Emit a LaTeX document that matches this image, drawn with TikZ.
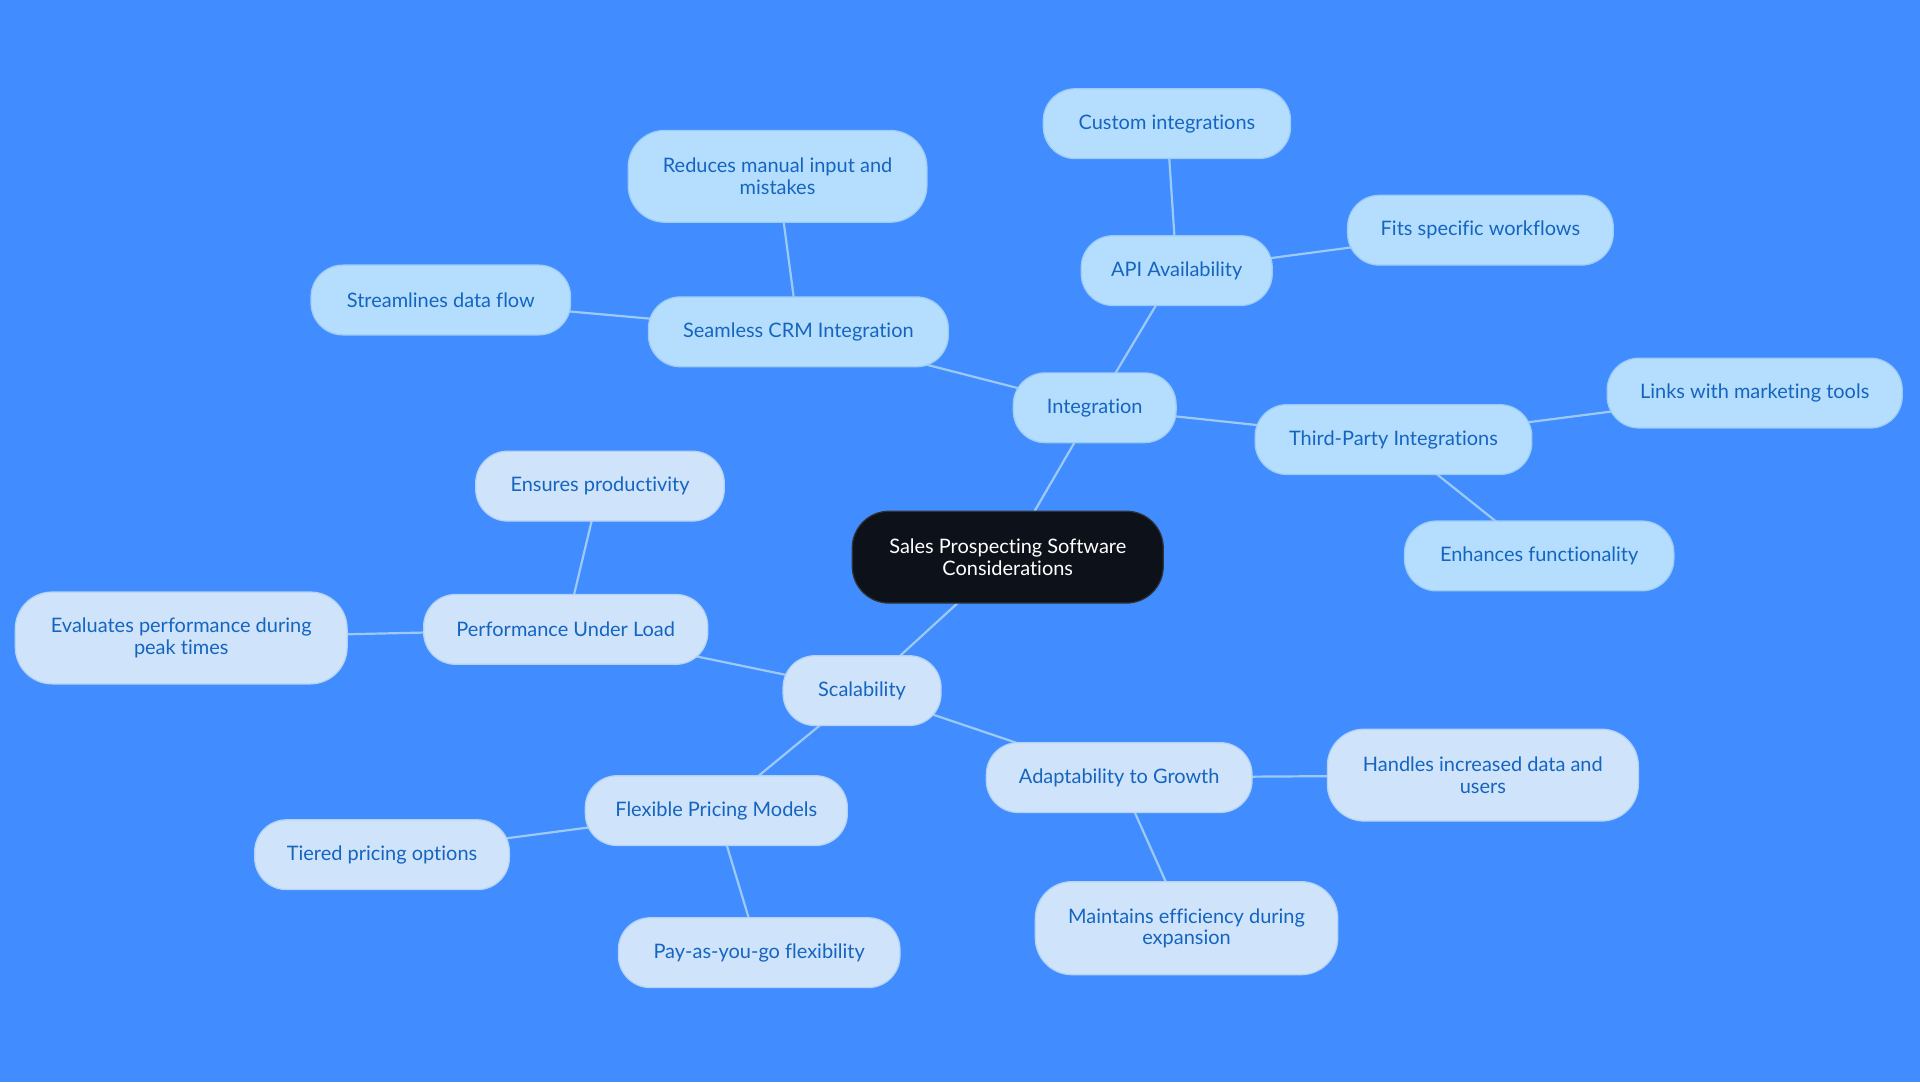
\documentclass[tikz,border=0pt]{standalone}
\usepackage{fontspec}
\setmainfont{Lato}[Ligatures=NoCommon]
\usetikzlibrary{backgrounds}
\definecolor{bg}{HTML}{418DFF}
\definecolor{upfill}{HTML}{B5DEFE}
\definecolor{upline}{HTML}{9DCCF6}
\definecolor{lofill}{HTML}{CFE3FB}
\definecolor{loline}{HTML}{B4D3F6}
\definecolor{txt}{HTML}{1565C0}
\definecolor{edge}{HTML}{9CCAF5}
\definecolor{rootfill}{HTML}{0D1119}
\begin{document}
\begin{tikzpicture}[x=1pt,y=-1pt,
  base/.style={rectangle,rounded corners=26pt,inner sep=0pt,align=center,
    font=\fontsize{16.3}{17.5}\selectfont,text=txt,line width=1pt},
  up/.style={base,fill=upfill,draw=upline,minimum height=57pt},
  lo/.style={base,fill=lofill,draw=loline,minimum height=57pt},
  link/.style={draw=edge,line width=1.8pt}]
\useasboundingbox (0,0) rectangle (1568,884);
% nodes
\node[base,fill=rootfill,draw=rootfill!70!gray,text=white,minimum width=254pt,minimum height=75pt,rounded corners=30pt] (root) at (823,455) {Sales Prospecting Software\\Considerations};
\node[up,minimum width=133pt] (int) at (894,333) {Integration};
\node[up,minimum width=245pt] (crm) at (652,271) {Seamless CRM Integration};
\node[up,minimum width=244pt,minimum height=75pt,rounded corners=30pt] (red) at (635,144) {Reduces manual input and\\mistakes};
\node[up,minimum width=212pt] (str) at (360,245) {Streamlines data flow};
\node[up,minimum width=156pt] (api) at (961,221) {API Availability};
\node[up,minimum width=202pt] (cus) at (953,101) {Custom integrations};
\node[up,minimum width=217pt] (fit) at (1209,188) {Fits specific workflows};
\node[up,minimum width=226pt] (tpi) at (1138,359) {Third-Party Integrations};
\node[up,minimum width=241pt] (lnk) at (1433,321) {Links with marketing tools};
\node[up,minimum width=220pt] (enh) at (1257,454) {Enhances functionality};
\node[lo,minimum width=129pt] (sca) at (704,564) {Scalability};
\node[lo,minimum width=232pt] (pul) at (462,514) {Performance Under Load};
\node[lo,minimum width=203pt] (ens) at (490,397) {Ensures productivity};
\node[lo,minimum width=271pt,minimum height=75pt,rounded corners=30pt] (eva) at (148,521) {Evaluates performance during\\peak times};
\node[lo,minimum width=214pt] (fpm) at (585,662) {Flexible Pricing Models};
\node[lo,minimum width=208pt] (tie) at (312,698) {Tiered pricing options};
\node[lo,minimum width=230pt] (pay) at (620,778) {Pay-as-you-go flexibility};
\node[lo,minimum width=217pt] (ada) at (914,635) {Adaptability to Growth};
\node[lo,minimum width=254pt,minimum height=75pt,rounded corners=30pt] (han) at (1211,633) {Handles increased data and\\users};
\node[lo,minimum width=247pt,minimum height=76pt,rounded corners=30pt] (mai) at (969,758) {Maintains efficiency during\\expansion};
% edges behind nodes
\begin{scope}[on background layer]
\fill[bg] (0,0) rectangle (1568,884);
\draw[link] (root.center) -- (int.center);
\draw[link] (int.center) -- (crm.center);
\draw[link] (crm.center) -- (red.center);
\draw[link] (crm.center) -- (str.center);
\draw[link] (int.center) -- (api.center);
\draw[link] (api.center) -- (cus.center);
\draw[link] (api.center) -- (fit.center);
\draw[link] (int.center) -- (tpi.center);
\draw[link] (tpi.center) -- (lnk.center);
\draw[link] (tpi.center) -- (enh.center);
\draw[link] (root.center) -- (sca.center);
\draw[link] (sca.center) -- (pul.center);
\draw[link] (pul.center) -- (ens.center);
\draw[link] (pul.center) -- (eva.center);
\draw[link] (sca.center) -- (fpm.center);
\draw[link] (fpm.center) -- (tie.center);
\draw[link] (fpm.center) -- (pay.center);
\draw[link] (sca.center) -- (ada.center);
\draw[link] (ada.center) -- (han.center);
\draw[link] (ada.center) -- (mai.center);
\end{scope}
\end{tikzpicture}
\end{document}
